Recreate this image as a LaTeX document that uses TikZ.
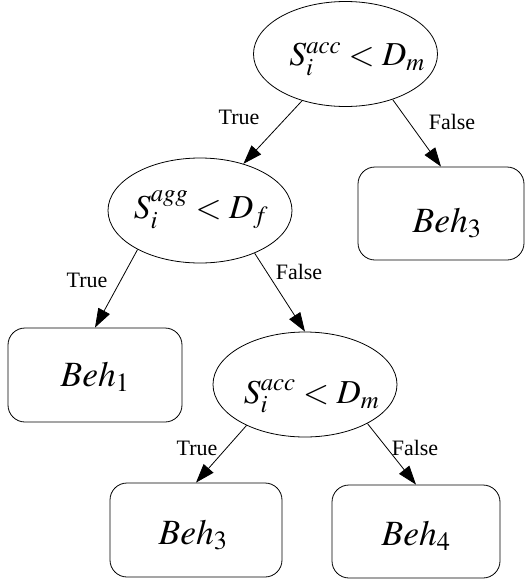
\documentclass[tikz,border=0pt]{standalone}
\usepackage{mathptmx}
\usepackage[no-math]{fontspec}
\setmainfont{Liberation Serif}
\newfontfamily\lblfont{Liberation Serif}
\usetikzlibrary{shapes.geometric,arrows.meta}
\tikzset{
  cond/.style={ellipse, draw, line width=0.8pt, minimum width=184pt, minimum height=105pt,
    inner sep=0pt},
  mtxt/.style={anchor=base, inner sep=0pt, font=\fontsize{33.5}{36}\selectfont},
  beh/.style={rectangle, draw, line width=0.8pt, rounded corners=17pt, inner sep=0pt,
    text depth=0pt, font=\fontsize{35.5}{38}\selectfont},
  lbl/.style={font=\lblfont\fontsize{22}{24}\selectfont, inner sep=0pt},
  arr/.style={line width=0.8pt, -{Triangle[length=19pt,width=13pt]}}
}
\begin{document}
\begin{tikzpicture}[x=1pt,y=-1pt]
\useasboundingbox (0,0) rectangle (526,582);
\node[cond] (t) at (345.5,54) {};
\node[cond] (e2) at (200,210.5) {};
\node[cond] (e3) at (305,384.5) {};
\node[mtxt] (tt) at (357,65.5) {$S_i^{acc}<D_m$};
\node[mtxt] (e2t) at (201,218.5) {$S_i^{agg}<D_f$};
\node[mtxt] (e3t) at (311.5,403) {$S_i^{acc}<D_m$};
\node[beh, minimum width=166pt, minimum height=93pt, text height=38pt] (r3) at (441,213.5) {\hspace*{12pt}$Beh_3$};
\node[beh, minimum width=174pt, minimum height=94pt, text height=22pt] (b1) at (95,375) {$Beh_1$};
\node[beh, minimum width=172pt, minimum height=94pt, text height=28pt] (b3) at (196,530) {\hspace*{-6pt}$Beh_3$};
\node[beh, minimum width=168pt, minimum height=93pt, text height=28pt] (b4) at (416,531.5) {$Beh_4$};
\draw[arr] (t) -- (e2);
\draw[arr] (t.-44) -- (r3.north);
\draw[arr] (e2.212) -- (b1.north);
\draw[arr] (e2.-38) -- (e3.north);
\draw[arr] (e3.215) -- (b3.north);
\draw[arr] (e3.-32) -- (b4.north);
\node[lbl] (l1) at (239,117) {True};
\node[lbl] (l2) at (452,122) {False};
\node[lbl] (l3) at (87,280) {True};
\node[lbl] (l4) at (299,272) {False};
\node[lbl] (l5) at (197,448) {True};
\node[lbl] (l6) at (415,448) {False};
\end{tikzpicture}
\end{document}
